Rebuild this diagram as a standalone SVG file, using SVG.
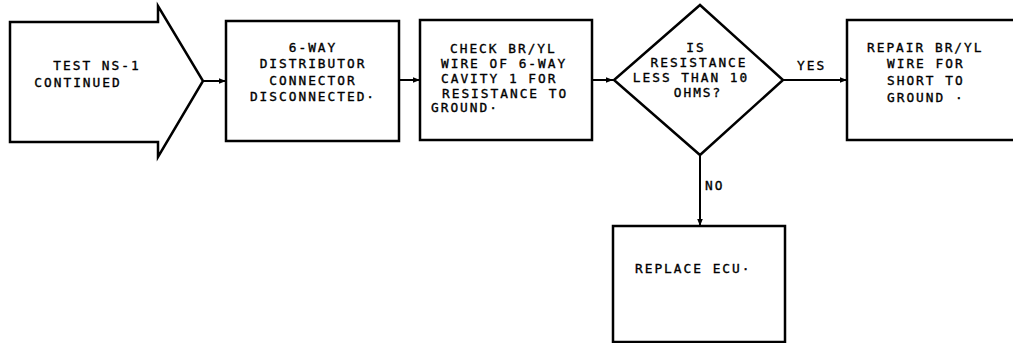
<svg xmlns="http://www.w3.org/2000/svg" width="1013" height="343" viewBox="0 0 1013 343">
<defs>
<style>
.shape{fill:#fff;stroke:#000;stroke-width:2.5;stroke-linejoin:miter}
.conn{fill:none;stroke:#000;stroke-width:2}
text{font-family:"DejaVu Sans Mono","Liberation Mono",monospace;font-size:12.8px;letter-spacing:2px;fill:#000;stroke:#000;stroke-width:0.35}
.m{text-anchor:middle}
</style>
<marker id="ah" viewBox="0 0 10 10" refX="10" refY="5" markerWidth="7" markerHeight="7" markerUnits="userSpaceOnUse" orient="auto">
<path d="M0,1 L10,5 L0,9 Z" fill="#000"/>
</marker>
</defs>
<rect width="1013" height="343" fill="#fff"/>
<g id="connectors">
<line class="conn" x1="203" y1="81" x2="226" y2="81" marker-end="url(#ah)"/>
<line class="conn" x1="399" y1="80" x2="420" y2="80" marker-end="url(#ah)"/>
<line class="conn" x1="592" y1="80" x2="613" y2="80" marker-end="url(#ah)"/>
<line class="conn" x1="783" y1="80" x2="847" y2="80" marker-end="url(#ah)"/>
<line class="conn" x1="700" y1="155" x2="700" y2="226" marker-end="url(#ah)"/>
<text x="797" y="70">YES</text>
<text x="705" y="190">NO</text>
</g>
<g id="start">
<path class="shape" d="M10,22 L158,22 L158,6 L203,81 L158,157 L158,142 L10,142 Z"/>
<text x="97" y="70" class="m">TEST NS-1</text>
<text x="78" y="87" class="m">CONTINUED</text>
</g>
<g id="disconnect">
<rect class="shape" x="226" y="21" width="173" height="120"/>
<text x="313" y="52" class="m">6-WAY</text>
<text x="313" y="68" class="m">DISTRIBUTOR</text>
<text x="313" y="85" class="m">CONNECTOR</text>
<text x="313" y="101" class="m">DISCONNECTED·</text>
</g>
<g id="check">
<rect class="shape" x="420" y="20" width="172" height="120"/>
<text x="450" y="53">CHECK BR/YL</text>
<text x="441" y="68">WIRE OF 6-WAY</text>
<text x="441" y="83">CAVITY 1 FOR</text>
<text x="442" y="98">RESISTANCE TO</text>
<text x="431" y="112">GROUND·</text>
</g>
<g id="decision">
<path class="shape" d="M700,5 L783,80 L700,155 L614,80 Z"/>
<text x="696" y="52" class="m">IS</text>
<text x="699" y="67" class="m">RESISTANCE</text>
<text x="691" y="82" class="m">LESS THAN 10</text>
<text x="698" y="97" class="m">OHMS?</text>
</g>
<g id="repair">
<path class="shape" d="M1020,20 L847,20 L847,140 L1020,140"/>
<text x="867" y="52">REPAIR BR/YL</text>
<text x="887" y="68">WIRE FOR</text>
<text x="887" y="85">SHORT TO</text>
<text x="887" y="102">GROUND ·</text>
</g>
<g id="replace">
<rect class="shape" x="613" y="226" width="172" height="116"/>
<text x="635" y="273">REPLACE ECU·</text>
</g>
</svg>
